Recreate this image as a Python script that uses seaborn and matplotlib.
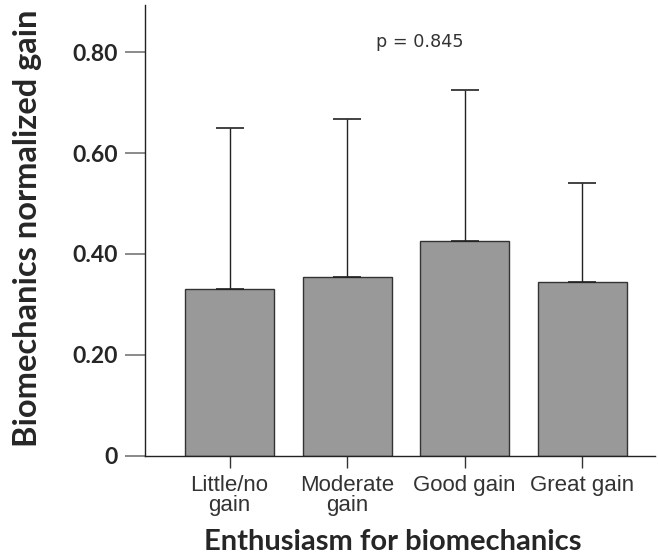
import matplotlib
matplotlib.use("Agg")
import matplotlib.pyplot as plt
import seaborn as sns
import numpy as np
import pandas as pd

# Values
categories = ["Little/no\ngain", "Moderate\ngain", "Good gain", "Great gain"]
mean_gain = [0.330, 0.355, 0.425, 0.344]
upper_err = [0.649, 0.667, 0.725, 0.541]   # top of error bar
y_ticks = [0, 0.2, 0.4, 0.6, 0.8]
y_ticklabels = ["0", "0.20", "0.40", "0.60", "0.80"]
p_text = "p = 0.845"

df = pd.DataFrame({"group": categories, "gain": mean_gain})

sns.set_style("ticks")
plt.rcParams["font.family"] = ["Liberation Sans", "DejaVu Sans"]

fig = plt.figure(figsize=(6.58, 5.56), dpi=100)
ax = fig.add_axes([0.2204, 0.1799, 0.775, 0.811])

sns.barplot(data=df, x="group", y="gain", color="#999999", saturation=1,
            width=0.757, edgecolor="#333333", linewidth=1.0, errorbar=None, ax=ax)

# only the upper half of the error bars is drawn
xpos = np.arange(len(categories))
yerr = [np.zeros(len(mean_gain)), np.array(upper_err) - np.array(mean_gain)]
ax.errorbar(xpos, mean_gain, yerr=yerr, fmt="none", ecolor="#222222",
            elinewidth=1.0, capsize=10.4, capthick=1.2, zorder=1)

ax.set_xlim(-0.72, 3.62)
ax.set_ylim(0, 0.893)
ax.set_yticks(y_ticks)
ax.set_yticklabels(y_ticklabels, fontfamily="Lato", fontweight="bold", fontsize=16.5)
ax.tick_params(axis="y", length=14.4, width=1.2, color="#777777", pad=5)
ax.tick_params(axis="x", length=8.5, width=1.0, color="#333333", pad=5,
               labelsize=16, labelcolor="#333333")
for lab in ax.get_xticklabels():
    lab.set_linespacing(0.95)

sns.despine(ax=ax)
for s in ["left", "bottom"]:
    ax.spines[s].set_color("#222222")
    ax.spines[s].set_linewidth(1.0)

ax.set_ylabel("Biomechanics normalized gain", fontfamily="Lato", fontweight="bold",
              fontsize=23.5)
ax.set_xlabel("Enthusiasm for biomechanics", fontfamily="Lato", fontweight="bold",
              fontsize=21)
ax.yaxis.set_label_coords(-0.202, 0.506)
ax.xaxis.set_label_coords(0.486, -0.162)

ax.text(1.62, 0.82, p_text, ha="center", va="center", fontsize=12.7,
        fontfamily="DejaVu Sans", color="#333333")

fig.savefig("out.png", dpi=100)
